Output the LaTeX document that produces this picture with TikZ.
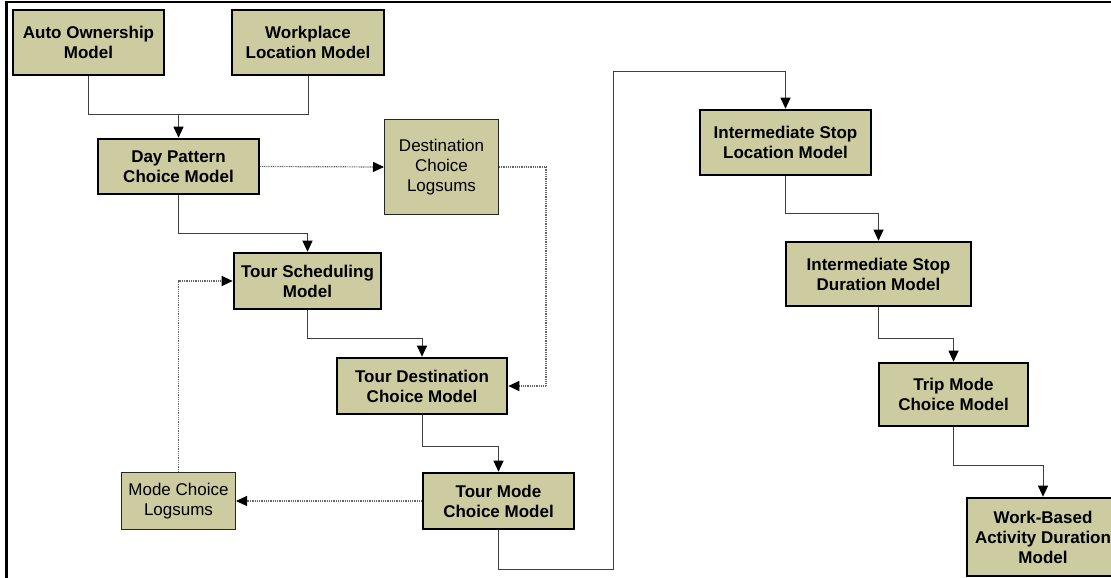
\documentclass[tikz,border=0pt]{standalone}
\usepackage{fontspec}
\setmainfont{Liberation Sans}
\usetikzlibrary{arrows.meta}
\definecolor{boxfill}{RGB}{204,204,160}
\definecolor{linegray}{RGB}{64,64,64}
\begin{document}
\begin{tikzpicture}[x=1pt,y=-1pt,
  model/.style={draw=black,line width=2.6pt,fill=boxfill,align=center,inner sep=0pt,
    font=\bfseries\fontsize{17}{20}\selectfont},
  logsum/.style={draw=black!85,line width=1pt,fill=boxfill,align=center,inner sep=0pt,
    font=\fontsize{17}{20}\selectfont},
  flow/.style={draw=linegray,line width=1pt,-{Triangle[length=11pt,width=10pt,color=black]}},
  feed/.style={flow,draw=black!60,line width=1.2pt,dash pattern=on 1pt off 0.8pt}]
\useasboundingbox (0,0) rectangle (1111,578);
\draw[line width=2.5pt] (6.5,600) -- (6.5,2) -- (1130,2);

\node[model,minimum width=151pt,minimum height=65pt] (auto) at (88.5,42.5) {Auto Ownership\\Model};
\node[model,minimum width=152pt,minimum height=65pt] (work) at (308,42.5) {Workplace\\Location Model};
\node[model,minimum width=161pt,minimum height=55pt] (day) at (178.5,166.5) {Day Pattern\\Choice Model};
\node[logsum,minimum width=114pt,minimum height=95pt] (dcl) at (441.5,167) {Destination\\Choice\\Logsums};
\node[model,minimum width=147pt,minimum height=56pt] (ts) at (307.5,281) {Tour Scheduling\\Model};
\node[model,minimum width=170pt,minimum height=56pt] (td) at (422,386) {Tour Destination\\Choice Model};
\node[model,minimum width=151pt,minimum height=56pt] (tm) at (498.5,501) {Tour Mode\\Choice Model};
\node[logsum,minimum width=114pt,minimum height=57pt] (mcl) at (178.5,501) {Mode Choice\\Logsums};
\node[model,minimum width=171pt,minimum height=65pt] (isl) at (785.5,142.5) {Intermediate Stop\\Location Model};
\node[model,minimum width=185pt,minimum height=64pt] (isd) at (878.5,274) {Intermediate Stop\\Duration Model};
\node[model,minimum width=149pt,minimum height=63pt] (tmc) at (953.5,394.5) {Trip Mode\\Choice Model};
\node[model,minimum width=152pt,minimum height=78pt] (wb) at (1043,537) {Work-Based\\Activity Duration\\Model};

\coordinate (join) at (178.5,114);
\coordinate (rise) at (613,72);
\draw[draw=linegray,line width=1pt] (work.south) |- (join);
\draw[flow] (auto.south) |- (join) -- (day.north);
\draw[feed] (day.east) -- (dcl.west);
\draw[feed] (dcl.east) -- ++(47,0) |- (td.east);
\draw[flow] (day.south) -- ++(0,38) -| (ts.north);
\draw[flow] (ts.south) -- ++(0,28) -| (td.north);
\draw[flow] (td.south) -- ++(0,31) -| (tm.north);
\draw[feed] (tm.west) -- (mcl.east);
\draw[feed] (mcl.north) |- (ts.west);
\draw[flow] (tm.south) -- ++(0,39) -| (rise) -| (isl.north);
\draw[flow] (isl.south) -- ++(0,37) -| (isd.north);
\draw[flow] (isd.south) -- ++(0,31) -| (tmc.north);
\draw[flow] (tmc.south) -- ++(0,38) -| (wb.north);
\end{tikzpicture}
\end{document}
